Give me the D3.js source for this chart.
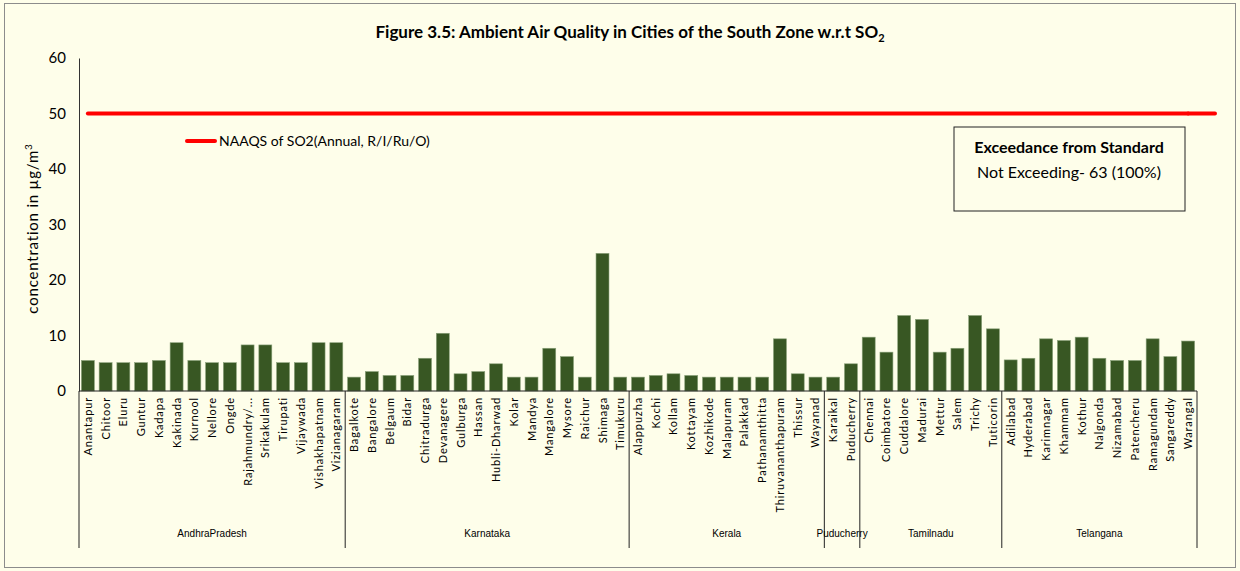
<!DOCTYPE html>
<html>
<head>
<meta charset="utf-8">
<script src="https://cdn.jsdelivr.net/npm/d3@7"></script>
<style>
  body { margin: 0; background: #fff; }
  svg { display: block; font-family: Lato, "Open Sans", sans-serif; }
</style>
</head>
<body>
<div id="chart"></div>
<script>
const cities = [
  'Anantapur', 'Chitoor', 'Eluru', 'Guntur', 'Kadapa', 'Kakinada', 'Kurnool', 'Nellore', 'Ongde',
  'Rajahmundry/...', 'Srikakulam', 'Tirupati', 'Vijaywada', 'Vishakhapatnam', 'Vizianagaram',
  'Bagalkote', 'Bangalore', 'Belgaum', 'Bidar', 'Chitradurga', 'Devanagere', 'Gulburga', 'Hassan',
  'Hubli-Dharwad', 'Kolar', 'Mandya', 'Mangalore', 'Mysore', 'Raichur', 'Shimaga', 'Timukuru',
  'Alappuzha', 'Kochi', 'Kollam', 'Kottayam', 'Kozhikode', 'Malapuram', 'Palakkad', 'Pathanamthitta',
  'Thiruvananthapuram', 'Thissur', 'Wayanad',
  'Karaikal', 'Puducherry',
  'Chennai', 'Coimbatore', 'Cuddalore', 'Madurai', 'Mettur', 'Salem', 'Trichy', 'Tuticorin',
  'Adilabad', 'Hyderabad', 'Karimnagar', 'Khammam', 'Kothur', 'Nalgonda', 'Nizamabad', 'Patencheru',
  'Ramagundam', 'Sangareddy', 'Warangal'
]

const so2 = [
  5.5, 5.1, 5.1, 5.1, 5.5, 8.7, 5.5, 5.1, 5.1, 8.3, 8.3, 5.1, 5.1, 8.7, 8.7,
  2.5, 3.5, 2.8, 2.8, 5.9, 10.4, 3.1, 3.5, 4.9, 2.5, 2.5, 7.7, 6.2, 2.5, 24.8, 2.5,
  2.5, 2.8, 3.1, 2.8, 2.5, 2.5, 2.5, 2.5, 9.4, 3.1, 2.5,
  2.5, 4.9,
  9.7, 7.0, 13.6, 12.9, 7.0, 7.7, 13.6, 11.2,
  5.6, 5.9, 9.4, 9.1, 9.7, 5.9, 5.5, 5.5, 9.4, 6.2, 9.0
]

const states = ['AndhraPradesh', 'Karnataka', 'Kerala', 'Puducherry', 'Tamilnadu', 'Telangana']
const stateSizes = [15, 16, 11, 2, 8, 11]

const standard = 50
const yTicks = [0, 10, 20, 30, 40, 50, 60]

const W = 1240
const H = 571
const margin = { top: 58, right: 43, bottom: 180, left: 79 }
const width = W - margin.left - margin.right
const height = H - margin.top - margin.bottom

const svg = d3.select('#chart').append('svg')
  .attr('width', W)
  .attr('height', H)

svg.append('rect')
  .attr('width', W).attr('height', H)
  .attr('fill', '#fefeea')

svg.append('rect')
  .attr('x', 4.5).attr('y', 3.5)
  .attr('width', W - 9).attr('height', H - 7)
  .attr('fill', 'none')
  .attr('stroke', '#8c8c8c')

const g = svg.append('g')
  .attr('transform', `translate(${margin.left},${margin.top})`)

const x = d3.scaleBand()
  .domain(cities)
  .range([0, width])
  .paddingInner(0.27)
  .paddingOuter(0.135)

const y = d3.scaleLinear()
  .domain([0, 60])
  .range([height, 0])

// title
svg.append('text')
  .attr('x', 630)
  .attr('y', 38)
  .attr('text-anchor', 'middle')
  .attr('style', 'font-weight: bold; font-size: 17px')
  .attr('fill', '#000')
  .text('Figure 3.5: Ambient Air Quality in Cities of the South Zone w.r.t SO')
  .append('tspan')
  .attr('dy', 4)
  .attr('style', 'font-size: 11px')
  .text('2')

// y axis
const yAxis = g.append('g')
  .call(d3.axisLeft(y).tickValues(yTicks).tickSize(0).tickPadding(13))
yAxis.select('.domain').attr('stroke', '#333')
yAxis.selectAll('text')
  .attr('style', 'font-size: 15px; font-family: Lato, sans-serif')
  .attr('fill', '#000')

svg.append('text')
  .attr('transform', `translate(38,${margin.top + height / 2 + 4}) rotate(-90)`)
  .attr('text-anchor', 'middle')
  .attr('style', 'font-size: 15px; letter-spacing: 0.8px')
  .text('concentration in µg/m')
  .append('tspan')
  .attr('dy', -6)
  .attr('style', 'font-size: 10px')
  .text('3')

// bars
g.selectAll('rect.bar')
  .data(cities)
  .join('rect')
  .attr('class', 'bar')
  .attr('x', d => x(d))
  .attr('y', (d, i) => y(so2[i]))
  .attr('width', x.bandwidth())
  .attr('height', (d, i) => height - y(so2[i]))
  .attr('fill', '#385723')
  .attr('stroke', '#8aa17a')
  .attr('stroke-width', 0.6)

// x axis line
g.append('line')
  .attr('x1', 0).attr('x2', width)
  .attr('y1', height).attr('y2', height)
  .attr('stroke', '#222')

// city labels
g.selectAll('text.city')
  .data(cities)
  .join('text')
  .attr('class', 'city')
  .attr('transform', d => `translate(${x(d) + x.bandwidth() / 2 + 4},${height + 6}) rotate(-90)`)
  .attr('text-anchor', 'end')
  .attr('style', 'font-size: 11px; letter-spacing: 0.85px')
  .text(d => d)

// state groups
const step = x.step()
const bounds = d3.cumsum([0, ...stateSizes])
const groupLineBottom = 157

bounds.forEach((b, i) => {
  const xx = i === bounds.length - 1 ? width : b * step
  g.append('line')
    .attr('x1', xx).attr('x2', xx)
    .attr('y1', height).attr('y2', height + groupLineBottom)
    .attr('stroke', '#222')
})

g.selectAll('text.state')
  .data(states)
  .join('text')
  .attr('class', 'state')
  .attr('x', (d, i) => (bounds[i] + bounds[i + 1]) / 2 * step)
  .attr('y', height + 146)
  .attr('text-anchor', 'middle')
  .attr('style', 'font-size: 10px; font-family: "Liberation Sans Narrow", sans-serif')
  .text(d => d)

// standard line
const stdLine = d3.line()
  .x(d => x(d) + x.bandwidth() / 2)
  .y(() => y(standard))

g.append('path')
  .datum(cities)
  .attr('d', stdLine)
  .attr('fill', 'none')
  .attr('stroke', '#ff0000')
  .attr('stroke-width', 4)
  .attr('stroke-linecap', 'round')

g.append('line')
  .attr('x1', x(cities[cities.length - 1]) + x.bandwidth() / 2)
  .attr('x2', width + 18)
  .attr('y1', y(standard)).attr('y2', y(standard))
  .attr('stroke', '#ff0000')
  .attr('stroke-width', 4)
  .attr('stroke-linecap', 'round')

// legend
const lg = svg.append('g').attr('transform', 'translate(187,141)')
lg.append('line')
  .attr('x1', 0).attr('x2', 28)
  .attr('stroke', '#ff0000')
  .attr('stroke-width', 4)
  .attr('stroke-linecap', 'round')
lg.append('text')
  .attr('x', 32).attr('y', 5)
  .attr('style', 'font-size: 14px')
  .text('NAAQS of SO2(Annual, R/I/Ru/O)')

// exceedance box
const box = svg.append('g').attr('transform', 'translate(954,127)')
box.append('rect')
  .attr('width', 231).attr('height', 84)
  .attr('fill', 'none')
  .attr('stroke', '#222')
box.append('text')
  .attr('x', 115).attr('y', 26)
  .attr('text-anchor', 'middle')
  .attr('style', 'font-size: 16px; font-weight: bold')
  .text('Exceedance from Standard')
box.append('text')
  .attr('x', 115).attr('y', 51)
  .attr('text-anchor', 'middle')
  .attr('style', 'font-size: 16px')
  .text('Not Exceeding- 63 (100%)')
</script>
</body>
</html>
